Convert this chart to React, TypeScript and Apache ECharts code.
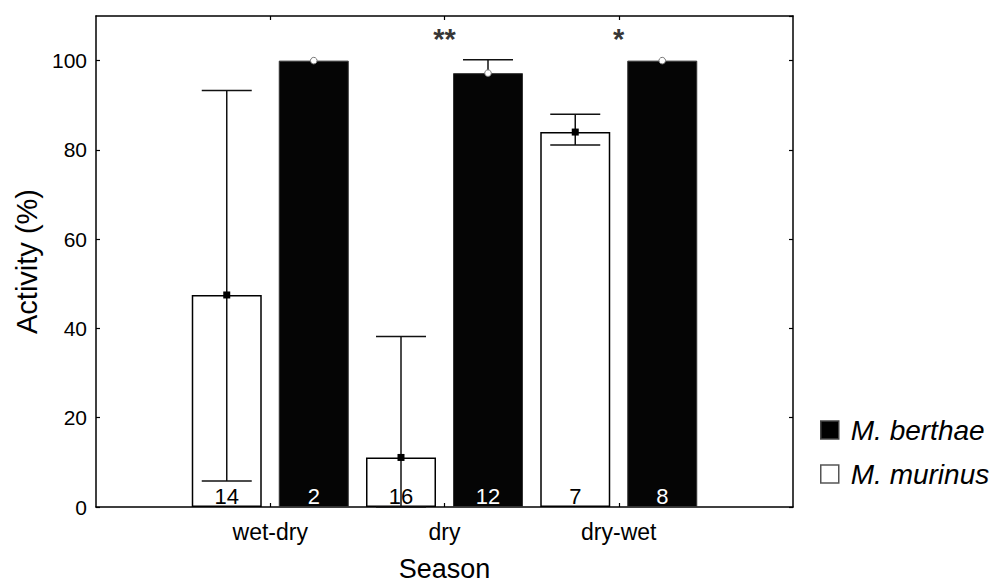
import React, { useEffect, useRef } from 'react';
import * as echarts from 'echarts';

const categories = ['wet-dry', 'dry', 'dry-wet'];
const murinusMean = [47.5, 11.1, 84.0];
const murinusUpper = [93.3, 38.2, 88.0];
const murinusLower = [5.8, 0, 81.1];
const berthaeMean = [100, 97.2, 100];
const berthaeUpper = [100, 100.2, 100];
const berthaeLower = [100, 97.2, 100];
const murinusN = [14, 16, 7];
const berthaeN = [2, 12, 8];
const significance = ['', '**', '*'];
const yMin = 0;
const yMax = 110;
const yInterval = 20;

const FONT = '"Liberation Sans", Arial, Helvetica, sans-serif';
const BAR_W = 70;
const BAR_GAP = 17;
const OFFSET = (BAR_W + BAR_GAP) / 2;
const CAP = 25;

export default function App() {
  const ref = useRef<HTMLDivElement>(null);

  useEffect(() => {
    if (!ref.current) return;
    const chart = echarts.init(ref.current, undefined, { renderer: 'svg' });

    const axisData = ['', ...categories, ''];
    const pad = (arr: number[]) => ['-', ...arr, '-'];

    const errData = (mean: number[], lo: number[], hi: number[]) =>
      mean.map((m, i) => [i + 1, m, lo[i], hi[i]]);

    const makeErr = (side: number, kind: 'square' | 'circle') =>
      (params: any, api: any) => {
        const xi = api.value(0);
        const x = api.coord([xi, 0])[0] + side * OFFSET;
        const yM = api.coord([xi, api.value(1)])[1];
        const yL = api.coord([xi, api.value(2)])[1];
        const yH = api.coord([xi, api.value(3)])[1];
        const lineStyle = { stroke: '#111', lineWidth: 1.5 };
        const children: any[] = [];
        if (Math.abs(yH - yM) > 0.5) {
          children.push({ type: 'line', shape: { x1: x, y1: yM, x2: x, y2: yH }, style: lineStyle });
          children.push({ type: 'line', shape: { x1: x - CAP, y1: yH, x2: x + CAP, y2: yH }, style: lineStyle });
        }
        if (Math.abs(yL - yM) > 0.5) {
          children.push({ type: 'line', shape: { x1: x, y1: yM, x2: x, y2: yL }, style: lineStyle });
          children.push({ type: 'line', shape: { x1: x - CAP, y1: yL, x2: x + CAP, y2: yL }, style: lineStyle });
        }
        if (kind === 'square') {
          children.push({ type: 'rect', shape: { x: x - 3.5, y: yM - 3.5, width: 7, height: 7 }, style: { fill: '#000' } });
        } else {
          children.push({ type: 'circle', shape: { cx: x, cy: yM, r: 3.3 }, style: { fill: '#fff', stroke: '#777', lineWidth: 1 } });
        }
        return { type: 'group', children };
      };

    const axisLine = { show: true, onZero: false, lineStyle: { color: '#000', width: 1.5 } };
    const tickStyle = { color: '#000', width: 1.2 };

    chart.setOption({
      animation: false,
      backgroundColor: '#fff',
      textStyle: { fontFamily: FONT },
      grid: { left: 96, right: 213, top: 16, bottom: 76, containLabel: false, outerBoundsMode: 'none' },
      legend: {
        orient: 'vertical',
        left: 820,
        top: 416,
        padding: 0,
        itemWidth: 18,
        itemHeight: 18,
        itemGap: 16,
        icon: 'rect',
        selectedMode: false,
        data: [
          { name: 'M. berthae', itemStyle: { color: '#000', borderColor: '#444', borderWidth: 1.5 } },
          { name: 'M. murinus', itemStyle: { color: '#fff', borderColor: '#555', borderWidth: 1.5 } },
        ],
        textStyle: { fontSize: 28, fontStyle: 'italic', color: '#000', fontFamily: FONT, padding: [0, 0, 0, 7] },
      },
      xAxis: [
        {
          type: 'category',
          data: axisData,
          boundaryGap: false,
          position: 'bottom',
          axisLine,
          axisTick: { show: true, inside: true, length: 4, lineStyle: tickStyle, interval: (i: number) => i >= 1 && i <= 3 },
          axisLabel: { show: true, interval: 0, color: '#000', fontSize: 23, margin: 13, fontFamily: FONT },
          splitLine: { show: false },
          name: 'Season',
          nameLocation: 'middle',
          nameGap: 48,
          nameTextStyle: { fontSize: 27, color: '#000', fontFamily: FONT },
        },
        {
          type: 'category',
          data: axisData,
          boundaryGap: false,
          position: 'top',
          axisLine,
          axisTick: { show: true, inside: true, length: 4, lineStyle: tickStyle, interval: (i: number) => i >= 1 && i <= 3 },
          axisLabel: { show: false },
          splitLine: { show: false },
        },
      ],
      yAxis: [
        {
          type: 'value',
          min: yMin,
          max: yMax,
          interval: yInterval,
          position: 'left',
          axisLine,
          axisTick: { show: true, inside: true, length: 4, lineStyle: tickStyle },
          axisLabel: { color: '#000', fontSize: 21, margin: 9, showMaxLabel: false, fontFamily: FONT },
          splitLine: { show: false },
          name: 'Activity (%)',
          nameLocation: 'middle',
          nameRotate: 90,
          nameGap: 52,
          nameTextStyle: { fontSize: 29, color: '#000', fontFamily: FONT },
        },
        {
          type: 'value',
          min: yMin,
          max: yMax,
          interval: yInterval,
          position: 'right',
          axisLine,
          axisTick: { show: true, inside: true, length: 4, lineStyle: tickStyle },
          axisLabel: { show: false },
          splitLine: { show: false },
        },
      ],
      series: [
        {
          name: 'M. murinus',
          type: 'bar',
          data: pad(murinusMean),
          barWidth: BAR_W,
          barGap: `${(BAR_GAP / BAR_W) * 100}%`,
          itemStyle: { color: '#fff', borderColor: '#000', borderWidth: 1.5 },
          label: {
            show: true,
            position: 'insideBottom',
            distance: 0,
            fontSize: 22,
            color: '#000',
            fontFamily: FONT,
            formatter: (p: any) => String(murinusN[p.dataIndex - 1]),
          },
          z: 2,
        },
        {
          name: 'M. berthae',
          type: 'bar',
          data: pad(berthaeMean),
          barWidth: BAR_W,
          itemStyle: { color: '#050505', borderColor: '#333', borderWidth: 1 },
          label: {
            show: true,
            position: 'insideBottom',
            distance: 0,
            fontSize: 22,
            color: '#fff',
            fontFamily: FONT,
            formatter: (p: any) => String(berthaeN[p.dataIndex - 1]),
          },
          z: 2,
        },
        {
          name: 'murinus-err',
          type: 'custom',
          renderItem: makeErr(-1, 'square'),
          data: errData(murinusMean, murinusLower, murinusUpper),
          encode: { x: 0, y: [1, 2, 3] },
          z: 5,
          silent: true,
        },
        {
          name: 'berthae-err',
          type: 'custom',
          renderItem: makeErr(1, 'circle'),
          data: errData(berthaeMean, berthaeLower, berthaeUpper),
          encode: { x: 0, y: [1, 2, 3] },
          z: 5,
          silent: true,
        },
        {
          name: 'significance',
          type: 'scatter',
          symbolSize: 0,
          silent: true,
          data: significance.map((s, i) => [i + 1, 104.8]),
          label: {
            show: true,
            position: 'inside',
            fontSize: 29,
            fontWeight: 'bold',
            color: '#000',
            fontFamily: FONT,
            formatter: (p: any) => significance[p.dataIndex],
          },
          z: 6,
        },
      ],
    });

    return () => chart.dispose();
  }, []);

  return (
    <div
      ref={ref}
      style={{ position: 'fixed', left: 0, top: 0, width: 1006, height: 583, background: '#fff' }}
    />
  );
}
